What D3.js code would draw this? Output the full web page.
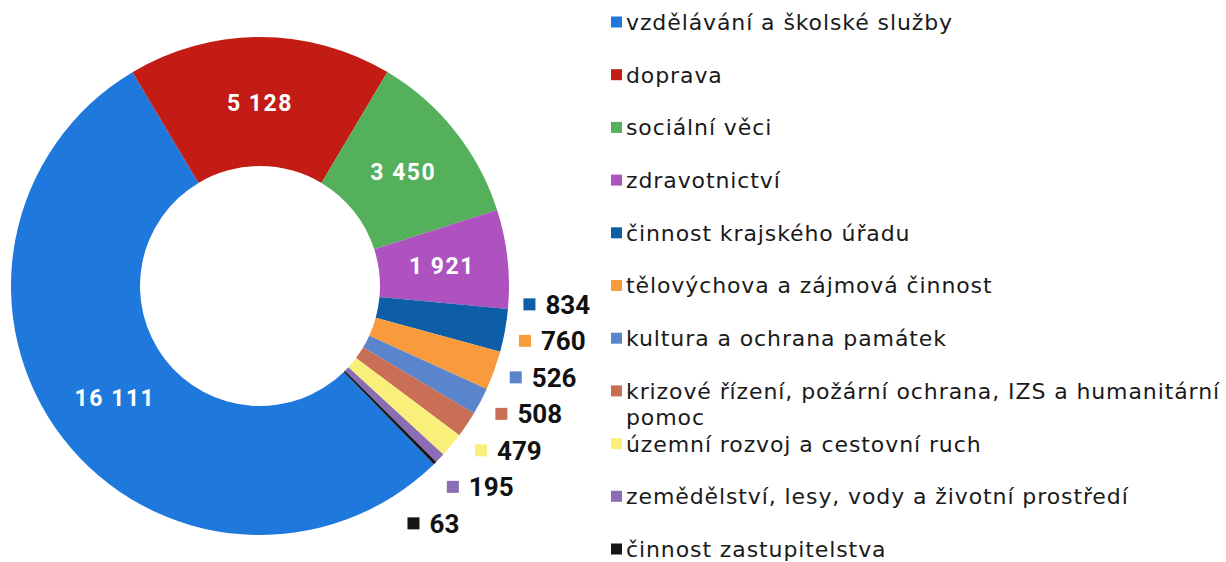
<!DOCTYPE html>
<html>
<head>
<meta charset="utf-8">
<script src="https://cdn.jsdelivr.net/npm/d3@7"></script>
<style>
  body { margin: 0; background: #fff; }
</style>
</head>
<body>
<svg id="chart" width="1226" height="562"></svg>
<script>
const categories = [
  'vzdělávání a školské služby',
  'doprava',
  'sociální věci',
  'zdravotnictví',
  'činnost krajského úřadu',
  'tělovýchova a zájmová činnost',
  'kultura a ochrana památek',
  'krizové řízení, požární ochrana, IZS a humanitární pomoc',
  'územní rozvoj a cestovní ruch',
  'zemědělství, lesy, vody a životní prostředí',
  'činnost zastupitelstva'
]
const values = [16111, 5128, 3450, 1921, 834, 760, 526, 508, 479, 195, 63]
const colors = [
  '#1f78dc', '#c21c14', '#55b05c', '#ad52bf', '#0d5ea6', '#f99b3c',
  '#5a84cc', '#c86f56', '#f9f07c', '#8a6db4', '#151515'
]
// slices big enough get their value inside the ring
const insideMin = 1000

const data = categories.map((c, i) => ({ name: c, value: values[i], color: colors[i] }))

const svg = d3.select('#chart')
const cx = 260
const cy = 286
const outerR = 249
const innerR = 120

const g = svg.append('g').attr('transform', 'translate(' + cx + ',' + cy + ')')

const start = 135.7 * Math.PI / 180
const pie = d3.pie()
  .sort(null)
  .value(d => d.value)
  .startAngle(start)
  .endAngle(start + 2 * Math.PI)

const arcs = pie(data)

const path = d3.arc().outerRadius(outerR).innerRadius(innerR)
const label = d3.arc().outerRadius(183).innerRadius(183)

g.selectAll('.slice')
  .data(arcs)
  .enter()
  .append('path')
  .attr('class', 'slice')
  .attr('d', path)
  .attr('fill', d => d.data.color)

const fmt = v => d3.format(',')(v).replace(/,/g, ' ')

g.selectAll('.inlabel')
  .data(arcs.filter(d => d.data.value >= insideMin))
  .enter()
  .append('text')
  .attr('class', 'inlabel')
  .attr('transform', d => 'translate(' + label.centroid(d) + ')')
  .attr('text-anchor', 'middle')
  .attr('dy', '0.36em')
  .attr('fill', '#fff')
  .style('font-family', 'Roboto, sans-serif')
  .style('font-weight', 700)
  .style('font-size', '23px')
  .style('letter-spacing', '1.5px')
  .text(d => fmt(d.data.value))

// outside labels: start from slice angle, then push apart vertically
const small = arcs.filter(d => d.data.value < insideMin)
const gap = 36.5
const pos = small.map(d => {
  const a = (d.startAngle + d.endAngle) / 2
  return { d: d, y: -250 * Math.cos(a) }
})
for (let k = 0; k < 50; k++) {
  for (let i = 1; i < pos.length; i++) {
    const diff = pos[i].y - pos[i - 1].y
    if (diff < gap) {
      const shift = (gap - diff) / 2
      pos[i].y += shift
      pos[i - 1].y -= shift
    }
  }
}
const labelR = 300
pos.forEach(p => {
  p.x = Math.sqrt(Math.max(0, labelR * labelR - p.y * p.y)) - 30
})

const outer = g.selectAll('.outlabel')
  .data(pos)
  .enter()
  .append('g')
  .attr('class', 'outlabel')
  .attr('transform', p => 'translate(' + p.x + ',' + p.y + ')')

outer.append('rect')
  .attr('x', -6)
  .attr('y', -6)
  .attr('width', 12)
  .attr('height', 12)
  .attr('fill', p => p.d.data.color)

outer.append('text')
  .attr('x', 16)
  .attr('dy', '0.36em')
  .attr('fill', '#111')
  .style('font-family', 'Roboto, sans-serif')
  .style('font-weight', 700)
  .style('font-size', '26px')
  .text(p => fmt(p.d.data.value))

// legend
const legend = svg.append('g').attr('transform', 'translate(611,22)')
const rowH = 52.7

const item = legend.selectAll('.item')
  .data(data)
  .enter()
  .append('g')
  .attr('class', 'item')
  .attr('transform', (d, i) => 'translate(0,' + i * rowH + ')')

item.append('rect')
  .attr('x', 0)
  .attr('y', -5.5)
  .attr('width', 11)
  .attr('height', 11)
  .attr('fill', d => d.color)

const words = item.append('text')
  .attr('x', 15)
  .attr('dy', '0.36em')
  .attr('fill', '#1a1a1a')
  .style('font-family', '"DejaVu Sans", sans-serif')
  .style('font-size', '22px')
  .style('letter-spacing', '0.9px')

// long name wraps onto a second line
words.each(function(d) {
  const t = d3.select(this)
  const maxW = 605
  const parts = d.name.split(' ')
  let line = []
  let span = t.append('tspan').attr('x', 15)
  parts.forEach(w => {
    line.push(w)
    span.text(line.join(' '))
    if (span.node().getComputedTextLength() > maxW && line.length > 1) {
      line.pop()
      span.text(line.join(' '))
      line = [w]
      span = t.append('tspan').attr('x', 15).attr('dy', '1.2em').text(w)
    }
  })
})
</script>
</body>
</html>
